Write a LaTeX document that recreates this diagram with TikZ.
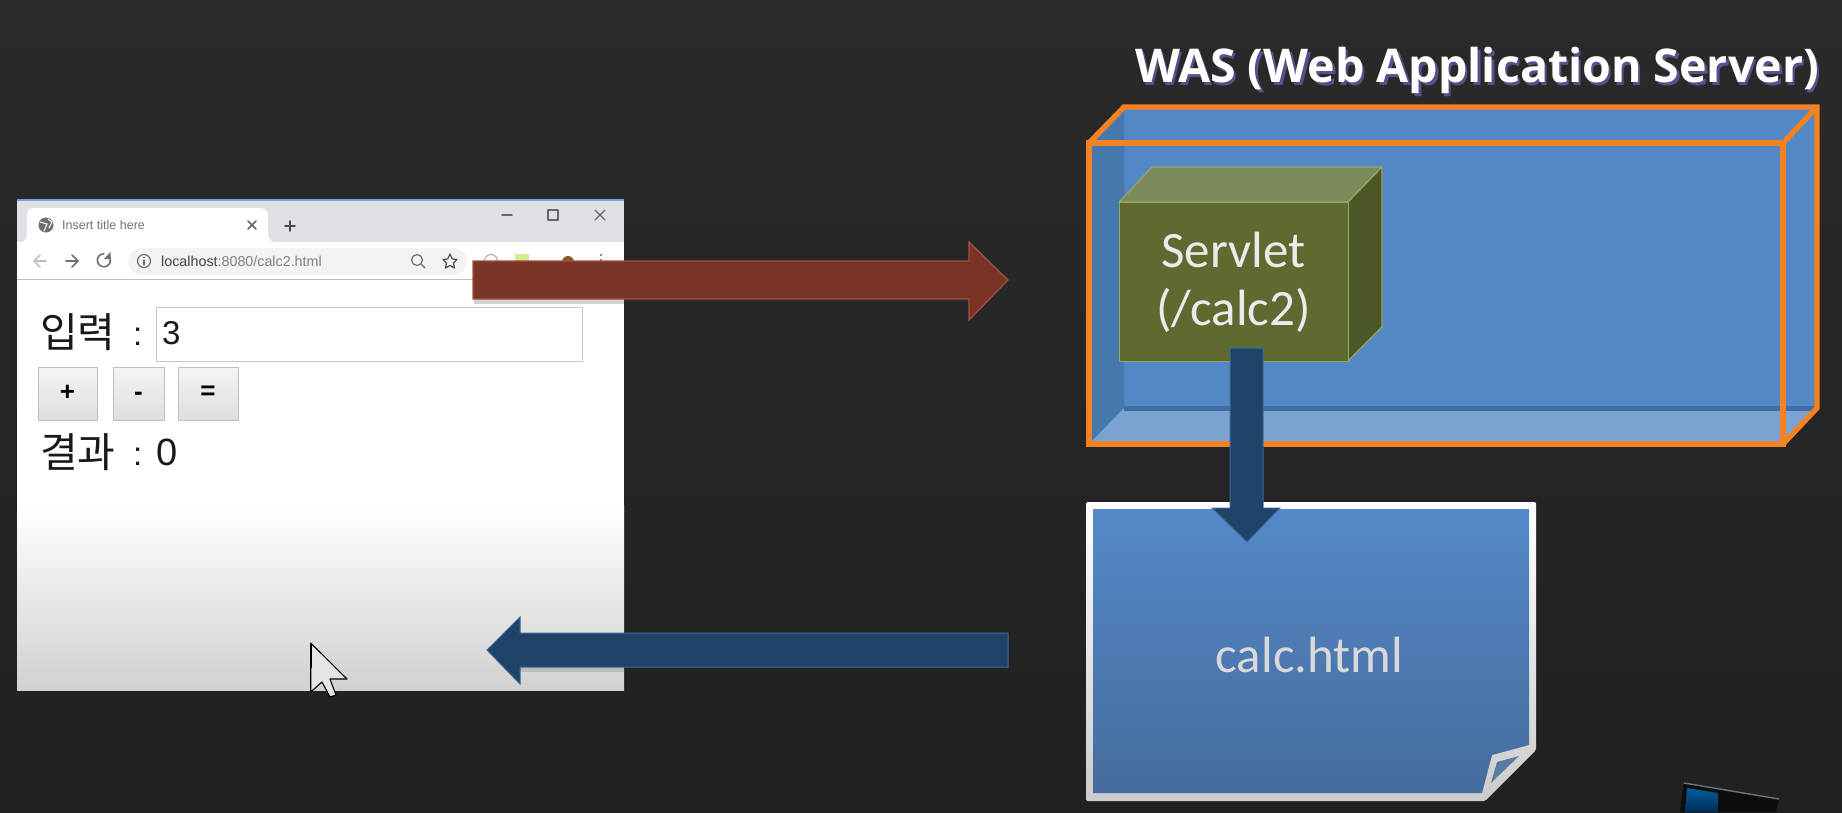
\documentclass[tikz,border=0pt]{standalone}
\usepackage{fontspec}
\setmainfont{Liberation Sans}
\newfontfamily\krfont{Noto Sans CJK KR}
\newfontfamily\lightfont{Carlito}
\newfontfamily\titlefont{Open Sans}
\usetikzlibrary{calc}
\definecolor{bgtop}{HTML}{2A2A2A}
\definecolor{bgbot}{HTML}{212121}
\definecolor{chrome}{HTML}{DEE1E6}
\definecolor{pill}{HTML}{F1F3F4}
\definecolor{icong}{HTML}{6E6E6E}
\definecolor{orangeline}{HTML}{F58220}
\definecolor{wasblue}{HTML}{5387C6}
\definecolor{wasleft}{HTML}{4579AE}
\definecolor{wasfloor}{HTML}{7AA3D2}
\definecolor{wasback}{HTML}{3F6EA6}
\definecolor{svfront}{HTML}{5E6B30}
\definecolor{svtop}{HTML}{7D8A5C}
\definecolor{svside}{HTML}{4B5727}
\definecolor{svline}{HTML}{93A865}
\definecolor{arrblue}{HTML}{1F4368}
\definecolor{arrblueline}{HTML}{3E6A9A}
\definecolor{arrred}{HTML}{7A3426}
\definecolor{arrredline}{HTML}{A3503D}
\definecolor{pagetop}{HTML}{5589C9}
\definecolor{pagebot}{HTML}{456C9C}
\definecolor{shadowp}{HTML}{5A4F8C}
\tikzset{
  x=1pt,y=-1pt,
  btn/.style={draw=black!25,line width=1pt,top color=white!96!black,bottom color=black!13},
  uitext/.style={inner sep=0pt,anchor=base west,text=black!90},
  ico/.style={draw=icong,line width=1.6pt,line cap=round,line join=round},
  wasedge/.style={draw=orangeline,line width=5.4pt,line join=miter},
  svface/.style={draw=svline,line width=1.2pt,line join=round},
  lighttext/.style={inner sep=0pt,align=center,text=white!92!black,font=\lightfont\fontsize{51}{58}\selectfont},
  blockred/.style={fill=arrred,draw=arrredline,line width=1.2pt},
  blockblue/.style={fill=arrblue,draw=arrblueline,line width=1pt},
  wastitle/.style={inner sep=0pt,anchor=base,font=\titlefont\bfseries\fontsize{46.5}{52}\selectfont},
}
\begin{document}
\begin{tikzpicture}
\useasboundingbox (0,0) rectangle (1842,812);
\shade[top color=bgtop,bottom color=bgbot] (0,0) rectangle (1842,812);

% ---------- browser ----------
\node[inner sep=0pt,minimum width=607pt,minimum height=490pt,anchor=north west] (browser) at (17,200) {};
\fill[white] (17,279) rectangle (624,505);
\shade[top color=white,bottom color=black!18] (17,505) rectangle (624,690);
\fill[chrome] (17,200) rectangle (624,242);
\fill[white] (17,242) rectangle (624,279);
\draw[black!25,line width=1pt] (17,279) -- (624,279);
\draw[cyan!50!blue!55,line width=1.5pt] (17,200) -- (624,200);
\fill[white] (20,242) .. controls (26,242) and (27,238) .. (27,232) -- (27,216)
  .. controls (27,210) and (30,208) .. (35,208) -- (259,208)
  .. controls (265,208) and (268,211) .. (268,216) -- (268,232)
  .. controls (268,238) and (270,242) .. (275,242) -- cycle;
\fill[icong] (46,225) circle (7.5);
\draw[white,line width=1.1pt] (40,222) -- (47,224) -- (44,231) (48,219) -- (52,222) -- (49,228);
\node[inner sep=0pt,anchor=west,text=black!55,font=\fontsize{12.5}{14}\selectfont] (tabtitle) at (62,225) {Insert title here};
\draw[ico,black!60] (248,221) -- (256,229) (256,221) -- (248,229);
\draw[ico,black!70] (285,226) -- (295,226) (290,221) -- (290,231);
\draw[ico,black!60] (502,215) -- (512,215);
\draw[ico,black!60,line width=1.3pt] (548,210) rectangle (558,220);
\draw[ico,black!60,line width=1.3pt] (595,210) -- (605,220) (605,210) -- (595,220);
\draw[ico,black!25] (34,261) -- (46,261) (40,255) -- (34,261) -- (40,267);
\draw[ico] (66,261) -- (78,261) (72,255) -- (78,261) -- (72,267);
\draw[ico] (109.5,257) arc (-30:270:6.5);
\fill[icong] (110.5,252) -- (110.5,259) -- (104,259) -- cycle;
\fill[pill,rounded corners=13pt] (128,248) rectangle (467,275);
\draw[ico,line width=1.2pt] (144,261) circle (6.5);
\draw[ico,line width=1.2pt] (144,260) -- (144,265) (144,257.3) -- (144,257.4);
\node[inner sep=0pt,anchor=west,font=\fontsize{14.3}{16}\selectfont] (url) at (161,261) {\textcolor{black!75}{localhost}\textcolor{black!50}{:8080/calc2.html}};
\draw[ico,line width=1.2pt] (417,260) circle (5.5) (421,264) -- (425,268);
\draw[ico,line width=1.2pt,black!70] (450,254) -- (452.3,259) -- (457,259.5) -- (453.5,263) -- (454.5,268) -- (450,265.5) -- (445.5,268) -- (446.5,263) -- (443,259.5) -- (447.7,259) -- cycle;
\draw[black!35,line width=1pt] (491,261) circle (6.5);
\fill[yellow!60!green!45] (515,254) rectangle (529,268);
\fill[brown!70!black] (568,262) circle (6);
\fill[black!60] (601,255) circle (1.2) (601,260) circle (1.2);

\node[uitext,font=\krfont\fontsize{41}{44}\selectfont] (in) at (40,347) {입력};
\node[uitext,font=\fontsize{33}{36}\selectfont] (incolon) at (133,345) {:};
\draw[draw=black!22,fill=white,line width=1pt] (156,307) rectangle (582,361);
\node[uitext,font=\fontsize{33}{36}\selectfont] (inval) at (162,344) {3};
\draw[btn] (38,367) rectangle (97,420);
\draw[btn] (113,367) rectangle (164,420);
\draw[btn] (178,367) rectangle (238,420);
\node[inner sep=0pt,font=\bfseries\fontsize{26}{28}\selectfont,text=black] (bplus) at (67.5,393) {+};
\node[inner sep=0pt,font=\bfseries\fontsize{26}{28}\selectfont,text=black] (bminus) at (138.5,396) {-};
\node[inner sep=0pt,font=\bfseries\fontsize{26}{28}\selectfont,text=black] (beq) at (208,393) {=};
\node[uitext,font=\krfont\fontsize{41}{44}\selectfont] (out) at (40,467) {결과};
\node[uitext,font=\fontsize{33}{36}\selectfont] (outcolon) at (133,465) {:};
\node[uitext,font=\fontsize{38}{40}\selectfont] (outval) at (156,465) {0};

% cursor
\draw[fill=black!10,draw=black,line width=1.1pt,line join=round] (310.7,643) -- (310.7,692) -- (322,682) -- (330,697) -- (336,695) -- (330,679) -- (347,679) -- cycle;
\draw[black,line width=2.2pt] (310.7,644) -- (310.7,668);

% ---------- WAS ----------
\node[inner sep=0pt,minimum width=694pt,minimum height=301pt,anchor=north west] (was) at (1089,143) {};
\fill[wasblue] (1089,143) -- (1124,107) -- (1817,107) -- (1817,408) -- (1783,444) -- (1089,444) -- cycle;
\fill[wasleft] (1089,143) -- (1124,107) -- (1124,408) -- (1089,444) -- cycle;
\fill[wasfloor] (1124,408) -- (1817,408) -- (1783,444) -- (1089,444) -- cycle;
\draw[wasback,line width=5pt] (1124,408) -- (1815,408);
\draw[wasedge] (1089,444) rectangle (1783,143);
\draw[wasedge] (1089,143) -- (1124,107) -- (1817,107) -- (1817,408) -- (1783,444);
\draw[wasedge] (1783,143) -- (1817,107);
\node[wastitle,text=shadowp] (titleshadow) at (1479.5,85) {WAS (Web Application Server)};
\node[wastitle,text=white] (title) at (1477,82) {WAS (Web Application Server)};

% ---------- servlet ----------
\draw[svface,fill=svtop] (1119,202) -- (1152,167) -- (1382,167) -- (1348,202) -- cycle;
\draw[svface,fill=svside] (1348,202) -- (1382,167) -- (1382,327) -- (1348,361) -- cycle;
\node[svface,fill=svfront,inner sep=0pt,minimum width=229pt,minimum height=159pt,anchor=north west] (servlet) at (1119,202) {};
\node[lighttext,anchor=base] (svl1) at (1233.5,267) {Servlet};
\node[lighttext,anchor=base] (svl2) at (1233.5,325) {(/calc2)};

% ---------- page ----------
\node[inner sep=0pt,minimum width=449pt,minimum height=299pt,anchor=north west] (page) at (1086,502) {};
\shade[top color=white,bottom color=black!20,rounded corners=1.5pt] (1086,502) -- (1536,502) -- (1536,750) -- (1485,801) -- (1086,801) -- cycle;
\shade[top color=pagetop,bottom color=pagebot] (1093,509) -- (1529,509) -- (1529,745) -- (1492,755) -- (1482,793) -- (1093,793) -- cycle;
\fill[pagebot!90!white] (1497,762) -- (1519,756) -- (1491,783) -- cycle;
\node[lighttext,anchor=base,text=white!85!black,font=\lightfont\fontsize{51}{58}\selectfont] (calc) at (1309.5,672) {calc.html};

% ---------- block arrows ----------
\coordinate (redstart) at (473,280);
\coordinate (redtip) at (1008,280);
\fill[black,opacity=.18] (474,299) rectangle (624,304);
\draw[blockred,line join=miter] (redstart) ++(0,-19) -- ++(496,0) -- ++(0,-19) -- (redtip) -- (969,320) -- (969,299) -- (473,299) -- cycle;

\coordinate (downstart) at (1247,348);
\coordinate (downtip) at (1247,542);
\draw[blockblue] (1230,348) -- (1263,348) -- (1263,508) -- (1280,508) -- (downtip) -- (1212,508) -- (1230,508) -- cycle;
\fill[arrblue] (1230.5,500) rectangle (1262.5,512);

\coordinate (backstart) at (1008,650);
\coordinate (backtip) at (487,650);
\fill[black,opacity=.12] (520,667) rectangle (624,672);
\draw[blockblue] (backstart) ++(0,-17) -- (520,633) -- (520,617) -- (backtip) -- (520,684) -- (520,667) -- (1008,667) -- cycle;

% ---------- corner fragment ----------
\fill[black!95] (1684,783) -- (1779,799) -- (1776,812) -- (1680,812) -- cycle;
\shade[top color=blue!40!cyan!60!black,bottom color=blue!50!cyan!35!black] (1687,788) -- (1718,793) -- (1718,812) -- (1685,812) -- cycle;
\draw[black!55,line width=1.4pt] (1684,783) -- (1779,799);
\end{tikzpicture}
\end{document}
